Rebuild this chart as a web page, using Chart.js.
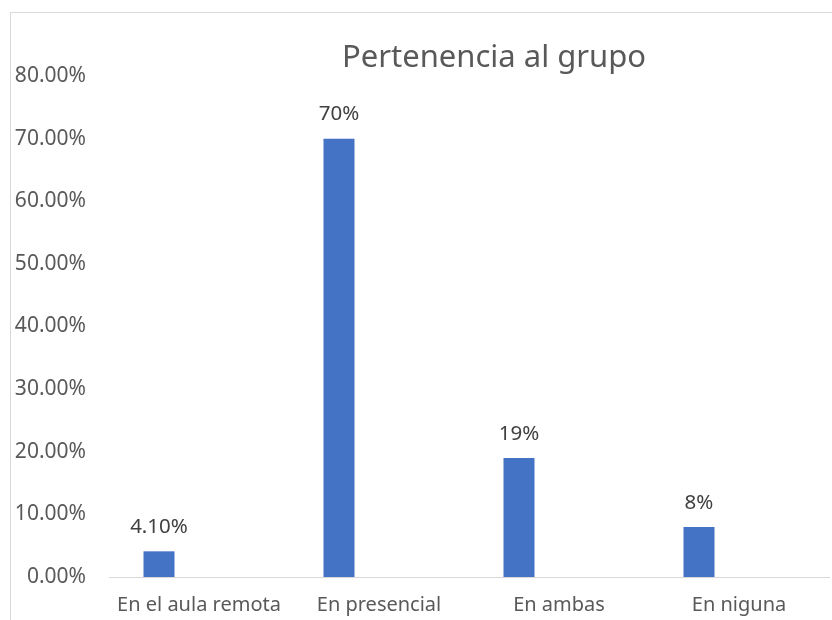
<!DOCTYPE html>
<html>
<head>
<meta charset="utf-8">
<script src="https://cdn.jsdelivr.net/npm/chart.js@4/dist/chart.umd.min.js"></script>
<style>
  html, body { margin: 0; padding: 0; background: #fff; overflow: hidden; width: 832px; height: 620px; }
  #frame { position: absolute; left: 10px; top: 12px; border-left: 1px solid #d9d9d9; border-top: 1px solid #d9d9d9; }
  canvas { display: block; }
</style>
</head>
<body>
<div id="frame"><canvas id="chart" width="966" height="608"></canvas></div>
<script>
// data
const chartTitle = "Pertenencia al grupo";
const categories = ["En el aula remota", "En presencial", "En ambas", "En niguna"];
const values = [4.1, 70, 19, 8];
const valueLabels = ["4.10%", "70%", "19%", "8%"];
const emptySeries = [null, null, null, null];

const FONT = "'Noto Sans', sans-serif";

// title is centred on the full (cropped) chart, not on the plot area
const titlePlugin = {
  id: "excelTitle",
  afterDraw(chart) {
    const ctx = chart.ctx;
    ctx.save();
    ctx.font = "31px " + FONT;
    ctx.fillStyle = "#595959";
    ctx.textAlign = "center";
    ctx.textBaseline = "alphabetic";
    ctx.fillText(chartTitle, chart.width / 2, 54);
    ctx.restore();
  }
};

const valueLabelPlugin = {
  id: "valueLabels",
  afterDatasetsDraw(chart) {
    const ctx = chart.ctx;
    const meta = chart.getDatasetMeta(0);
    ctx.save();
    ctx.font = "20.5px " + FONT;
    ctx.fillStyle = "#404040";
    ctx.textAlign = "center";
    ctx.textBaseline = "middle";
    meta.data.forEach((bar, i) => {
      ctx.fillText(valueLabels[i], bar.x, bar.y - 24);
    });
    ctx.restore();
  }
};

new Chart(document.getElementById("chart"), {
  type: "bar",
  data: {
    labels: categories,
    datasets: [
      {
        data: values,
        backgroundColor: "#4472c4",
        borderWidth: 0,
        categoryPercentage: 0.889,
        barPercentage: 0.3875
      },
      {
        data: emptySeries,
        backgroundColor: "#ed7d31",
        categoryPercentage: 0.889,
        barPercentage: 0.3875
      }
    ]
  },
  options: {
    responsive: false,
    animation: false,
    devicePixelRatio: 1,
    layout: { padding: { top: 63, right: 148, bottom: 0, left: 0 } },
    plugins: {
      legend: { display: false },
      title: { display: false },
      tooltip: { enabled: false }
    },
    scales: {
      x: {
        grid: { display: false },
        border: { display: true, color: "#d9d9d9", width: 1 },
        ticks: {
          color: "#595959",
          font: { family: FONT, size: 20 },
          maxRotation: 0,
          autoSkip: false,
          padding: 8
        },
        afterFit(s) { s.height = 44; }
      },
      y: {
        min: 0,
        max: 80,
        grid: { display: false },
        border: { display: false },
        ticks: {
          stepSize: 10,
          color: "#595959",
          font: { family: FONT, size: 21 },
          padding: 15,
          callback: (v) => v.toFixed(2) + "%"
        },
        afterFit(s) { s.width = 98; }
      }
    }
  },
  plugins: [titlePlugin, valueLabelPlugin]
});
</script>
</body>
</html>
